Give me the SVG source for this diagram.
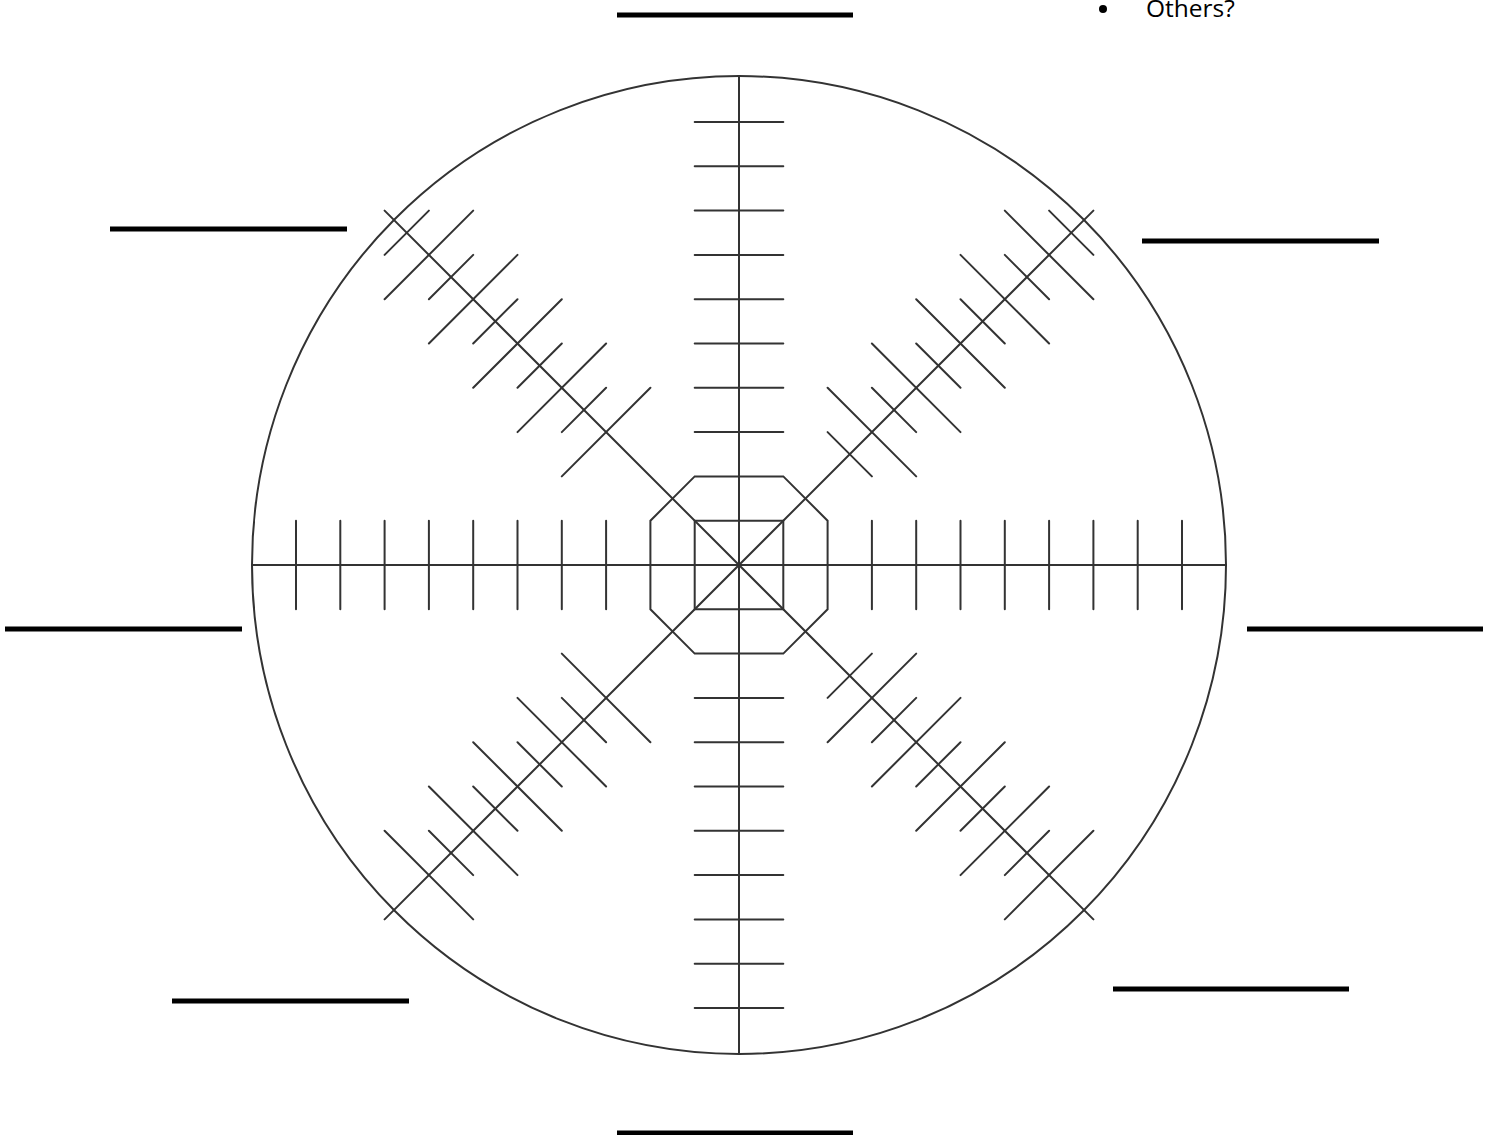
<svg xmlns="http://www.w3.org/2000/svg" width="1497" height="1135" viewBox="0 0 1497 1135">
<style>
.ln{fill:none;stroke:#333;stroke-width:2;vector-effect:non-scaling-stroke;stroke-linecap:round}
.blank{stroke:#000;stroke-width:5}
.txt{font-family:"Open Sans","Liberation Sans",sans-serif;font-size:24.5px;fill:#000}
</style>
<rect width="1497" height="1135" fill="#fff"/>
<g id="note">
<circle cx="1103" cy="9" r="4" fill="#000"/>
<text class="txt" x="1146" y="17">Others?</text>
</g>
<g id="blanks">
<line class="blank" x1="617" y1="15" x2="853" y2="15"/>
<line class="blank" x1="110" y1="229" x2="347" y2="229"/>
<line class="blank" x1="1142" y1="241" x2="1379" y2="241"/>
<line class="blank" x1="5" y1="629" x2="242" y2="629"/>
<line class="blank" x1="1247" y1="629" x2="1483" y2="629"/>
<line class="blank" x1="172" y1="1001" x2="409" y2="1001"/>
<line class="blank" x1="1113" y1="989" x2="1349" y2="989"/>
<line class="blank" x1="617" y1="1133" x2="853" y2="1133"/>
</g>
<g id="wheel">
<ellipse class="ln" cx="739" cy="565" rx="487" ry="489"/>
<line class="ln" x1="739" y1="76" x2="739" y2="1054"/>
<line class="ln" x1="252" y1="565" x2="1226" y2="565"/>
<g transform="translate(739,565) scale(44.3)">
<path class="ln" d="M-8 -8L8 8M8 -8L-8 8"/>
<rect class="ln" x="-1" y="-1" width="2" height="2"/>
<polygon class="ln" points="-1,-2 1,-2 2,-1 2,1 1,2 -1,2 -2,1 -2,-1"/>
<path id="ticks-vert" class="ln" d="M-1 -3H1M-1 -4H1M-1 -5H1M-1 -6H1M-1 -7H1M-1 -8H1M-1 -9H1M-1 -10H1M-1 3H1M-1 4H1M-1 5H1M-1 6H1M-1 7H1M-1 8H1M-1 9H1M-1 10H1"/>
<path id="ticks-horiz" class="ln" d="M-3 -1V1M-4 -1V1M-5 -1V1M-6 -1V1M-7 -1V1M-8 -1V1M-9 -1V1M-10 -1V1M3 -1V1M4 -1V1M5 -1V1M6 -1V1M7 -1V1M8 -1V1M9 -1V1M10 -1V1"/>
<path id="ticks-nw" class="ln" d="M-4 -2L-2 -4M-5 -3L-3 -5M-6 -4L-4 -6M-7 -5L-5 -7M-8 -6L-6 -8M-4 -3L-3 -4M-5 -4L-4 -5M-6 -5L-5 -6M-7 -6L-6 -7M-8 -7L-7 -8"/>
<path id="ticks-ne" class="ln" d="M2 -4L4 -2M3 -5L5 -3M4 -6L6 -4M5 -7L7 -5M6 -8L8 -6M2 -3L3 -2M3 -4L4 -3M4 -5L5 -4M5 -6L6 -5M6 -7L7 -6M7 -8L8 -7"/>
<path id="ticks-sw" class="ln" d="M-4 2L-2 4M-5 3L-3 5M-6 4L-4 6M-7 5L-5 7M-8 6L-6 8M-4 3L-3 4M-5 4L-4 5M-6 5L-5 6M-7 6L-6 7"/>
<path id="ticks-se" class="ln" d="M2 4L4 2M3 5L5 3M4 6L6 4M5 7L7 5M6 8L8 6M2 3L3 2M3 4L4 3M4 5L5 4M5 6L6 5M6 7L7 6"/>
</g>
</g>
</svg>
